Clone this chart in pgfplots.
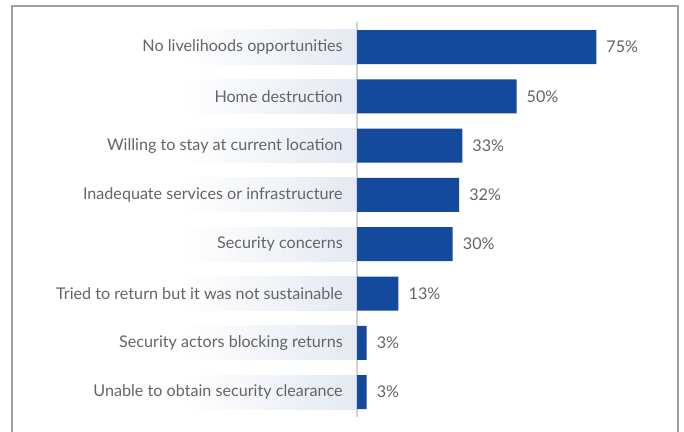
\documentclass[border=0pt]{standalone}
\usepackage{fontspec}
\setmainfont{Lato}
\usepackage{pgfplots}
\pgfplotsset{compat=1.18}
\definecolor{barblue}{RGB}{19,74,156}
\definecolor{bandgray}{RGB}{228,233,242}
\definecolor{txtgray}{RGB}{100,100,100}
\definecolor{framegray}{RGB}{160,160,160}
\pgfplotsset{chartbox/.style={
  at={(357bp,15.25bp)}, anchor=south west,
  scale only axis, width=319bp, height=394.4bp,
  xmin=0, xmax=100, ymin=-0.5, ymax=7.5, y dir=reverse,
  clip=false}}
\begin{document}
\begin{tikzpicture}
\path[use as bounding box] (0,0) rectangle (684bp,432bp);
% frame (bottom edge is cut off in the original)
\draw[framegray, line width=1.2bp] (12bp,0) -- (12bp,426bp) -- (678bp,426bp) -- (678bp,0);
% label bands, fading to the left
\begin{axis}[chartbox, hide axis]
\foreach \i in {0,...,7} {
  \edef\tmp{\noexpand\fill[left color=white, right color=bandgray, draw=none]
    (axis cs:-55,\i-0.345) rectangle (axis cs:0,\i+0.345);}
  \tmp
}
\end{axis}
\begin{axis}[
  chartbox,
  xbar, bar width=34bp, bar shift=0pt,
  axis x line=none, axis y line=left,
  y axis line style={-, draw=gray!35, line width=1.6bp},
  ytick={0,...,7}, ytick style={draw=none},
  yticklabels={No livelihoods opportunities, Home destruction,
    Willing to stay at current location, Inadequate services or infrastructure,
    Security concerns, Tried to return but it was not sustainable,
    Security actors blocking returns, Unable to obtain security clearance},
  yticklabel style={font=\fontsize{16.2}{18}\selectfont, text=txtgray, anchor=east, inner sep=0pt, xshift=-12bp},
  nodes near coords={\pgfmathprintnumber\pgfplotspointmeta\%},
  every node near coord/.append style={font=\fontsize{16.2}{18}\selectfont, text=txtgray, anchor=west, inner sep=0pt, xshift=10bp},
  /pgf/number format/assume math mode=true,
]
\addplot[fill=barblue, draw=none] coordinates {
  (75,0) (50,1) (33,2) (32,3) (30,4) (13,5) (3,6) (3,7)
};
\end{axis}
\end{tikzpicture}
\end{document}
